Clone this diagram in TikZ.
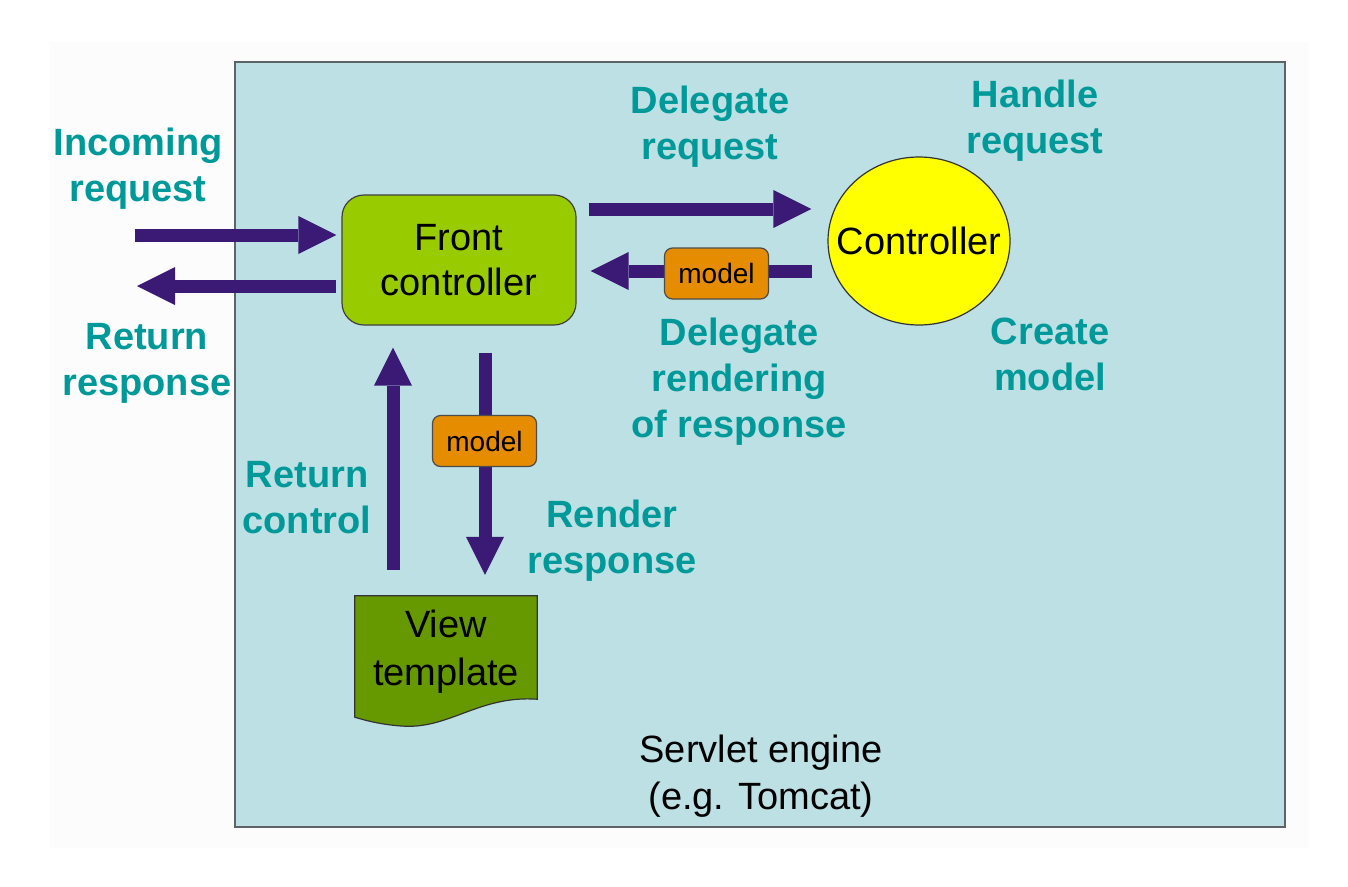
\documentclass[tikz,border=0pt]{standalone}
\usepackage{fontspec}
\setmainfont{Liberation Sans}
\usetikzlibrary{arrows.meta,shapes.geometric,calc}
\definecolor{lblc}{HTML}{009999}
\definecolor{arrc}{HTML}{3B1A75}
\definecolor{enginec}{HTML}{BCE0E3}
\definecolor{fcc}{HTML}{99CC00}
\definecolor{vtc}{HTML}{669900}
\definecolor{modelc}{HTML}{E68C00}
\definecolor{ctrlc}{HTML}{FFFF00}
\definecolor{slidec}{HTML}{FCFCFC}
\definecolor{borderc}{HTML}{5E6466}
\begin{document}
\begin{tikzpicture}[x=1pt,y=-1pt,
  lbl/.style={text=lblc, font=\fontsize{38}{46}\selectfont\bfseries, align=center, anchor=base, inner sep=0pt},
  plain/.style={text=black, font=\fontsize{38}{47}\selectfont, align=center, inner sep=0pt},
  bigarrow/.style={draw=arrc, line width=13pt, -{Triangle[length=38pt,width=38pt,line width=0pt]}},
  modelbox/.style={draw=black!70, fill=modelc, rounded corners=8pt, minimum width=104pt, minimum height=51pt, font=\fontsize{28}{32}\selectfont, inner sep=0pt, line width=1.2pt},
]
\useasboundingbox (0,0) rectangle (1348,886);
\fill[white] (0,0) rectangle (1348,886);
\fill[slidec] (50,42) rectangle (1309,848);
% servlet engine
\draw[draw=borderc, fill=enginec, line width=2.5pt] (235,62) rectangle (1285,827);
\node[plain, anchor=base] (eng) at (761,809) {Servlet engine\\(e.g. Tomcat)};

% nodes
\node[draw=black!75, fill=fcc, rounded corners=22pt, minimum width=234pt, minimum height=130pt, line width=1.2pt, plain, font=\fontsize{38}{45}\selectfont] (fc) at (459,260) {Front\\controller};
\node[ellipse, draw=black!80, fill=ctrlc, minimum width=182pt, minimum height=168pt, inner sep=0pt, line width=1.2pt] (ctrl) at (919,241) {};
\node[plain, font=\fontsize{38}{46}\selectfont] (ctrlt) at (ctrl.center) {Controller};
\node[minimum width=182pt, minimum height=104pt, inner sep=0pt] (vt) at (446,648) {};
\draw[draw=black!80, fill=vtc, line width=1.2pt]
  (vt.north west) -- (vt.north east) -- ($(vt.south east)+(0,-1)$)
  .. controls ($(vt.south east)+(-57,-5)$) and ($(vt.south east)+(-87,28)$) .. ($(vt.south west)+(50,26)$)
  .. controls ($(vt.south west)+(30,25)$) and ($(vt.south west)+(13,21)$) .. ($(vt.south west)+(0,17)$) -- cycle;
\node[plain, font=\fontsize{38}{48}\selectfont] (vtt) at ($(vt.center)+(0,4)$) {View\\template};

% arrows
\coordinate (inS) at (135,235);
\coordinate (retE) at (137,286);
\draw[bigarrow, shorten >=5pt] (inS) -- (inS -| fc.west);
\draw[bigarrow, shorten <=5pt] (retE -| fc.west) -- (retE);
\draw[bigarrow, shorten <=12pt, shorten >=16pt] (fc.east |- 0,209) -- (ctrl.west |- 0,209);
\draw[bigarrow, shorten <=15pt, shorten >=14pt] (ctrl.west |- 0,271) -- (fc.east |- 0,271);
\draw[bigarrow, shorten <=26pt, shorten >=22pt] (vt.north -| 393,0) -- (fc.south -| 393,0);
\draw[bigarrow, shorten <=27pt, shorten >=21pt] (fc.south -| 485,0) -- (vt.north -| 485,0);

\node[modelbox] (m1) at (716.5,273.5) {model};
\node[modelbox] (m2) at (484.5,441) {model};

% labels
\node[lbl] (l1) at (138,201) {Incoming\\request};
\node[lbl] (l2) at (147,395) {Return\\response};
\node[lbl] (l3) at (710,159) {Delegate\\request};
\node[lbl] (l4) at (1035,153) {Handle\\request};
\node[lbl] (l5) at (739,437) {Delegate\\rendering\\of response};
\node[lbl] (l6) at (1050,390) {Create\\model};
\node[lbl] (l7) at (307,533) {Return\\control};
\node[lbl] (l8) at (612,573) {Render\\response};
\end{tikzpicture}
\end{document}
